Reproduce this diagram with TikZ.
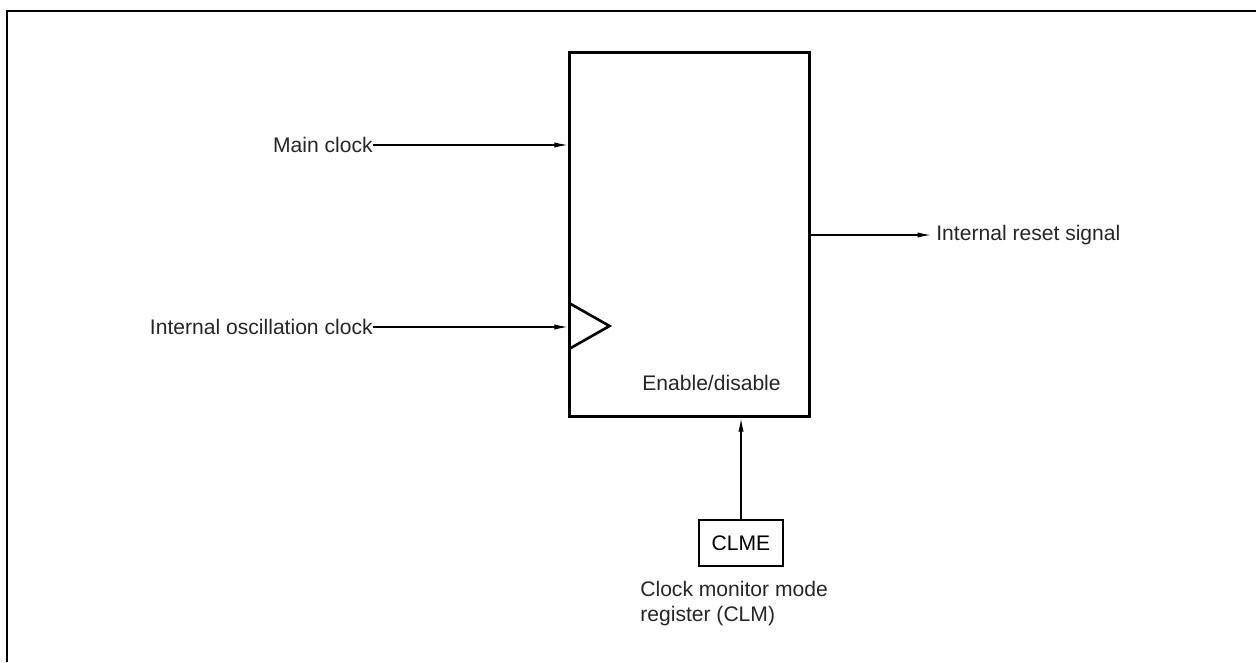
\documentclass[tikz,border=0pt]{standalone}
\usepackage{fontspec}
\setmainfont{Liberation Sans}
\usetikzlibrary{arrows.meta}
\begin{document}
\begin{tikzpicture}[x=0.02cm,y=-0.02cm,
  lbl/.style={inner sep=0pt,font=\fontsize{12}{14.2}\selectfont,text=black!85},
  arr/.style={line width=0.6pt,-{Latex[length=7.5pt,width=3pt]}},
  frame/.style={line width=1.7pt},
  blockbox/.style={draw,line width=1.7pt,minimum width=4.82cm,minimum height=7.3cm,inner sep=0pt},
  regbox/.style={draw,line width=1.5pt,minimum width=1.68cm,minimum height=0.92cm,inner sep=0pt,font=\fontsize{12}{14}\selectfont}]
\useasboundingbox (0,0) rectangle (1256,662);
% outer frame (top and left edges visible)
\draw[frame] (7,662) -- (7,11) -- (1256,11);
% main block
\node[blockbox] (blk) at (689.5,234.5) {};
% clock input triangle
\coordinate (ta) at (569,303);
\coordinate (tb) at (609.5,326);
\coordinate (tc) at (569,349);
\draw[line width=1.5pt,line join=miter] (ta) -- (tb) -- (tc);
% labels
\node[lbl,anchor=east] (mc) at (373,145) {Main clock};
\node[lbl,anchor=east] (ioc) at (373,327) {Internal oscillation clock};
\node[lbl,anchor=west] (rst) at (936,235) {Internal reset signal};
\node[lbl] (ed) at (711.5,383) {Enable/disable};
\node[regbox] (clme) at (741,543) {CLME};
\node[lbl,anchor=north west,align=left] (clm) at (640,581) {Clock monitor mode\\register (CLM)};
% connectors
\draw[arr] (mc.east) -- (mc.east -| blk.west);
\draw[arr] (ioc.east) -- (ioc.east -| blk.west);
\draw[arr] (blk.east |- rst.west) -- ([xshift=-3pt]rst.west);
\draw[arr] (clme.north) -- (clme.north |- blk.south);
\end{tikzpicture}
\end{document}
